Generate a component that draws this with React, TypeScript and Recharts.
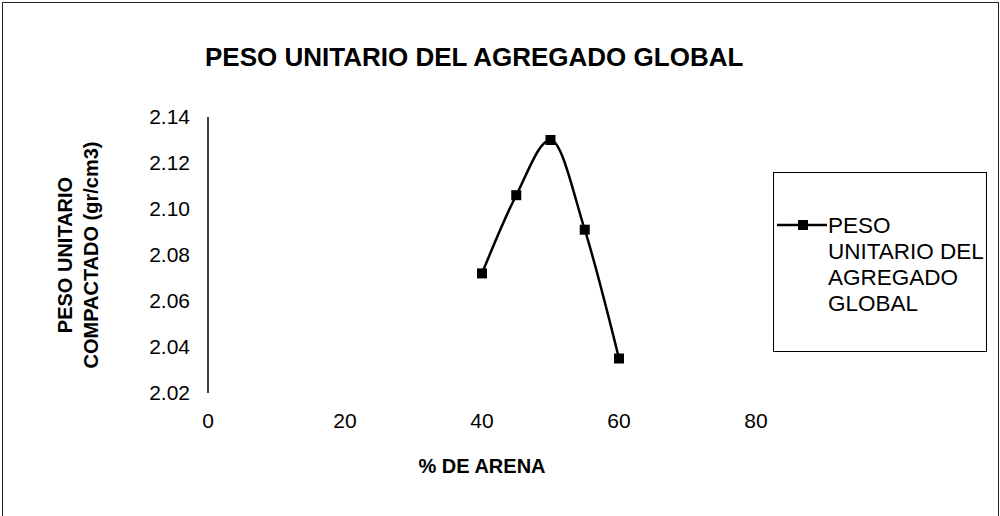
import React from "react";
import { Legend, Line, LineChart, XAxis, YAxis } from "recharts";

const arena = [40, 45, 50, 55, 60];
const pesoUnitario = [2.072, 2.106, 2.13, 2.091, 2.035];
const xTicks = [0, 20, 40, 60, 80];
const yTicks = [2.02, 2.04, 2.06, 2.08, 2.1, 2.12, 2.14];
const legendLines = ["PESO", "UNITARIO DEL", "AGREGADO", "GLOBAL"];

const data = arena.map((a, i) => ({ arena: a, peso: pesoUnitario[i] }));

const FONT = '"Liberation Sans", Arial, sans-serif';

function SquareDot(props: any) {
  const { cx, cy } = props;
  if (cx == null || cy == null) return null;
  return <rect x={cx - 5} y={cy - 5} width={10} height={10} fill="#000" />;
}

function XTitle(props: any) {
  const { viewBox } = props;
  const cx = viewBox.x + viewBox.width / 2;
  return (
    <text x={cx} y={viewBox.y + 80} textAnchor="middle" fontFamily={FONT} fontWeight="bold" fontSize={20} fill="#000">
      % DE ARENA
    </text>
  );
}

function YTitle(props: any) {
  const { viewBox } = props;
  const cy = viewBox.y + viewBox.height / 2;
  return (
    <g fontFamily={FONT} fontWeight="bold" fontSize={20} fill="#000">
      <text transform={`translate(72, ${cy}) rotate(-90)`} textAnchor="middle">PESO UNITARIO</text>
      <text transform={`translate(98, ${cy}) rotate(-90)`} textAnchor="middle">COMPACTADO (gr/cm3)</text>
    </g>
  );
}

function LegendBox() {
  return (
    <div style={{ position: "relative", width: 212, height: 178, border: "1px solid #000", fontFamily: FONT, fontSize: 22.5, color: "#000" }}>
      <svg width={50} height={20} style={{ position: "absolute", left: 3, top: 42 }}>
        <line x1={0} y1={10} x2={50} y2={10} stroke="#000" strokeWidth={2.5} />
        <rect x={21} y={5} width={10} height={10} fill="#000" />
      </svg>
      <div style={{ position: "absolute", left: 54, top: 40, lineHeight: "26px", textAlign: "left" }}>
        {legendLines.map((l) => (
          <div key={l}>{l}</div>
        ))}
      </div>
    </div>
  );
}

export default function App() {
  return (
    <div style={{ position: "absolute", left: 0, top: 0, width: 1000, height: 516, background: "#fff", overflow: "hidden" }}>
      <div style={{ position: "absolute", left: 2, top: 2, width: 995, height: 530, borderLeft: "1px solid #222", borderTop: "1px solid #222", borderRight: "1px solid #222" }} />
      <div style={{ position: "absolute", left: 205, top: 42, fontFamily: FONT, fontWeight: "bold", fontSize: 26, color: "#000", whiteSpace: "nowrap" }}>
        PESO UNITARIO DEL AGREGADO GLOBAL
      </div>
      <LineChart width={1000} height={516} data={data} margin={{ top: 117, right: 244, bottom: 43, left: 148 }}>
        <XAxis
          type="number"
          dataKey="arena"
          domain={[0, 80]}
          ticks={xTicks}
          axisLine={false}
          tickLine={false}
          tickMargin={14}
          height={80}
          tick={{ fill: "#000", fontSize: 21, fontFamily: FONT }}
          label={<XTitle />}
        />
        <YAxis
          type="number"
          domain={[2.02, 2.14]}
          ticks={yTicks}
          width={60}
          axisLine={{ stroke: "#000", strokeWidth: 1.5 }}
          tickLine={false}
          tickMargin={12}
          tickFormatter={(v: number) => v.toFixed(2)}
          tick={{ fill: "#000", fontSize: 21, fontFamily: FONT }}
          label={<YTitle />}
        />
        <Legend
          layout="vertical"
          align="center"
          verticalAlign="middle"
          content={() => <LegendBox />}
          wrapperStyle={{ position: "absolute", left: 773, top: 172, width: 214, height: 180 }}
        />
        <Line
          type="monotone"
          dataKey="peso"
          stroke="#000"
          strokeWidth={2.5}
          dot={<SquareDot />}
          activeDot={false}
          isAnimationActive={false}
        />
      </LineChart>
    </div>
  );
}
